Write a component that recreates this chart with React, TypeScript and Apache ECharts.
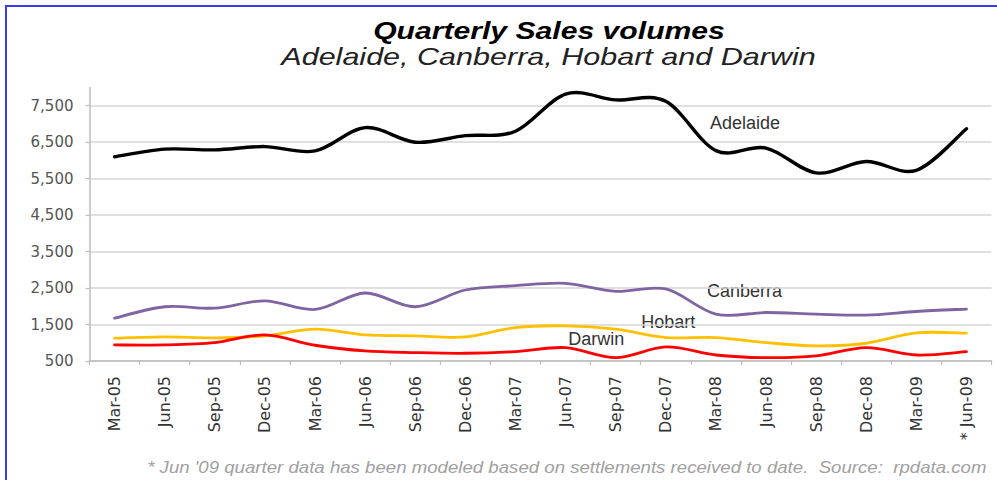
import React, { useEffect, useRef } from "react";
import * as echarts from "echarts";

const categories = [
  "Mar-05", "Jun-05", "Sep-05", "Dec-05", "Mar-06", "Jun-06", "Sep-06", "Dec-06",
  "Mar-07", "Jun-07", "Sep-07", "Dec-07", "Mar-08", "Jun-08", "Sep-08", "Dec-08",
  "Mar-09", "* Jun-09",
];

const adelaide = [6100, 6310, 6290, 6380, 6260, 6900, 6500, 6680, 6800, 7820, 7660, 7620, 6270, 6340, 5660, 5970, 5730, 6870];
const canberra = [1676, 1988, 1950, 2150, 1913, 2365, 1988, 2447, 2566, 2630, 2410, 2475, 1786, 1830, 1786, 1759, 1858, 1924];
const hobart = [1125, 1161, 1135, 1190, 1373, 1216, 1190, 1161, 1418, 1464, 1373, 1143, 1143, 1005, 913, 987, 1271, 1262];
const darwin = [941, 941, 1005, 1216, 932, 775, 730, 712, 757, 867, 591, 886, 665, 591, 638, 867, 665, 757];

const yTicks = [500, 1500, 2500, 3500, 4500, 5500, 6500, 7500];

const titleText = "Quarterly Sales volumes";
const subtitleText = "Adelaide, Canberra, Hobart and Darwin";
const footText = "* Jun '09 quarter data has been modeled based on settlements received to date.  Source:  rpdata.com";

function measure(text: string, font: string): number {
  const c = document.createElement("canvas");
  const ctx = c.getContext("2d");
  if (!ctx) return 1;
  ctx.font = font;
  return ctx.measureText(text).width || 1;
}

// Catmull-Rom style smoothed path through pixel points (Excel-like smoothing)
function smoothPath(pts: number[][]): string {
  if (!pts.length) return "";
  let d = `M${pts[0][0]},${pts[0][1]}`;
  const n = pts.length;
  for (let i = 0; i < n - 1; i++) {
    const p0 = pts[i - 1] || pts[i];
    const p1 = pts[i];
    const p2 = pts[i + 1];
    const p3 = pts[i + 2] || pts[i + 1];
    const c1x = p1[0] + (p2[0] - p0[0]) / 6;
    const c1y = p1[1] + (p2[1] - p0[1]) / 6;
    const c2x = p2[0] - (p3[0] - p1[0]) / 6;
    const c2y = p2[1] - (p3[1] - p1[1]) / 6;
    d += ` C${c1x},${c1y} ${c2x},${c2y} ${p2[0]},${p2[1]}`;
  }
  return d;
}

export default function App() {
  const ref = useRef<HTMLDivElement>(null);
  useEffect(() => {
    if (!ref.current) return;
    const chart = echarts.init(ref.current, undefined, { renderer: "svg" });
    const fam = '"Liberation Sans", Arial, sans-serif';
    const titleScale = 352 / measure(titleText, `italic bold 23px "Liberation Sans"`);
    const subScale = 535 / measure(subtitleText, `italic 23px "Liberation Sans"`);
    const footScale = 840 / measure(footText, `italic 16px "Liberation Sans"`);

    const mkText = (text: string, x: number, y: number, size: number, color: string, extra: any = {}, scaleX = 1) => ({
      type: "text",
      x,
      y,
      scaleX,
      silent: true,
      style: {
        text,
        fontFamily: fam,
        fontSize: size,
        fill: color,
        textAlign: "center",
        textVerticalAlign: "middle",
        align: "center",
        verticalAlign: "middle",
        ...extra,
      },
    });

    const lineSeries = (name: string, values: number[], color: string, width: number) => ({
      name,
      type: "custom",
      data: values.map((v, i) => [i, v]),
      encode: { x: 0, y: 1 },
      clip: false,
      renderItem: (params: any, api: any) => {
        if (params.dataIndex !== 0) return null;
        const pts = values.map((v, i) => api.coord([i, v]));
        return {
          type: "path",
          shape: { pathData: smoothPath(pts) },
          style: { fill: "none", stroke: color, lineWidth: width, lineJoin: "round", lineCap: "round" },
          silent: true,
        };
      },
    });

    chart.setOption({
      animation: false,
      backgroundColor: "#ffffff",
      grid: { left: 89.5, right: 5.5, top: 87.5, bottom: 119, containLabel: false },
      xAxis: {
        type: "category",
        data: categories,
        boundaryGap: true,
        axisLine: { show: true, lineStyle: { color: "#bdbdbd", width: 1.5 } },
        axisTick: { show: true, alignWithLabel: false, length: 4, lineStyle: { color: "#bdbdbd", width: 1.2 } },
        axisLabel: {
          rotate: 90,
          margin: 15,
          interval: 0,
          fontFamily: '"DejaVu Sans", sans-serif',
          fontSize: 16,
          color: "#333333",
        },
        splitLine: { show: false },
      },
      yAxis: {
        type: "value",
        min: 500,
        max: 8000,
        interval: 1000,
        axisLine: { show: true, lineStyle: { color: "#bdbdbd", width: 1.5 } },
        axisTick: { show: true, length: 4, lineStyle: { color: "#bdbdbd", width: 1.2 } },
        axisLabel: {
          showMaxLabel: false,
          margin: 16,
          fontFamily: '"DejaVu Sans", sans-serif',
          fontSize: 15,
          color: "#555555",
          formatter: (v: number) => (yTicks.indexOf(v) >= 0 ? v.toLocaleString("en-US") : ""),
        },
        splitLine: { show: true, showMaxLine: false, lineStyle: { color: "#d6d6d6", width: 1.5 } },
      },
      series: [
        lineSeries("Adelaide", adelaide, "#000000", 3.4),
        lineSeries("Canberra", canberra, "#8064A2", 2.8),
        lineSeries("Hobart", hobart, "#FFC000", 2.8),
        lineSeries("Darwin", darwin, "#FF0000", 2.8),
      ],
      graphic: [
        {
          type: "rect",
          silent: true,
          shape: { x: 6, y: 6, width: 1000, height: 500 },
          style: { fill: "none", stroke: "#3a3af0", lineWidth: 2 },
        },
        mkText(titleText, 549, 31.3, 23, "#000000", { fontStyle: "italic", fontWeight: "bold" }, titleScale),
        mkText(subtitleText, 548.5, 57.7, 23, "#222222", { fontStyle: "italic" }, subScale),
        mkText(footText, 566.8, 467.5, 16, "#a0a0a0", { fontStyle: "italic" }, footScale),
        mkText("Adelaide", 745, 123, 18, "#333333"),
        mkText("Canberra", 744.5, 290.7, 18, "#333333"),
        mkText("Hobart", 668.3, 322.3, 18, "#333333"),
        mkText("Darwin", 596.3, 339, 18, "#333333"),
      ],
    });
    return () => chart.dispose();
  }, []);
  return (
    <div
      ref={ref}
      style={{ position: "fixed", left: 0, top: 0, width: 997, height: 480, background: "#fff" }}
    />
  );
}
